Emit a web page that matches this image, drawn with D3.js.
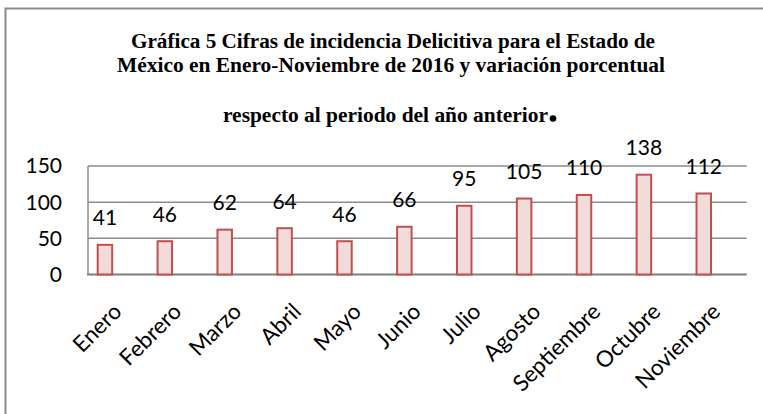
<!DOCTYPE html>
<html><head><meta charset="utf-8">
<script src="https://cdn.jsdelivr.net/npm/d3@7"></script>
<style>body{margin:0;background:#fff}svg{display:block}</style>
</head><body>
<script>
const categories = ["Enero","Febrero","Marzo","Abril","Mayo","Junio","Julio","Agosto","Septiembre","Octubre","Noviembre"];
const values = [41,46,62,64,46,66,95,105,110,138,112];
const yTicks = [0,50,100,150];
const titleLines = ["Gráfica 5 Cifras de incidencia Delicitiva para el Estado de","México en Enero-Noviembre de 2016 y variación porcentual","respecto al periodo del año anterior"];

const W=763,H=414;
const svg=d3.select("body").append("svg").attr("width",W).attr("height",H);

// outer frame
svg.append("path").attr("d",`M5.5,${H+5} V8.5 H${W+5}`).attr("fill","none").attr("stroke","#8a8a8a").attr("stroke-width",2);

// title
const tl=[{y:48.3,len:524,x:393},{y:71.7,len:548,x:391},{y:121.7,len:325,x:385.5}];
titleLines.forEach((t,i)=>{
  svg.append("text").attr("x",tl[i].x).attr("y",tl[i].y).attr("text-anchor","middle")
    .attr("font-family","Liberation Serif, Times New Roman, serif").attr("font-weight","bold").attr("font-size",20)
    .attr("textLength",tl[i].len).attr("lengthAdjust","spacingAndGlyphs").attr("fill","#000").text(t);
});
svg.append("circle").attr("cx",553).attr("cy",118.5).attr("r",3.3).attr("fill","#000");

const x=d3.scaleBand().domain(categories).range([88,746.7]).padding(0);
const y=d3.scaleLinear().domain([0,150]).range([274.5,166]);
const bw=x.bandwidth();

// gridlines
svg.append("g").selectAll("line").data(yTicks.filter(d=>d>0)).join("line")
  .attr("x1",88).attr("x2",746.7).attr("y1",d=>y(d)).attr("y2",d=>y(d))
  .attr("stroke","#8c8c8c").attr("stroke-width",1.5);
// axes lines
svg.append("line").attr("x1",88).attr("x2",88).attr("y1",y(150)).attr("y2",y(0)).attr("stroke","#8c8c8c").attr("stroke-width",1.5);
svg.append("line").attr("x1",87).attr("x2",746.7).attr("y1",y(0)).attr("y2",y(0)).attr("stroke","#7f7f7f").attr("stroke-width",2);

// y tick labels
svg.append("g").selectAll("text").data(yTicks).join("text")
  .attr("x",62).attr("y",d=>y(d)).attr("dy","0.35em").attr("text-anchor","end")
  .attr("font-family","Lato, sans-serif").attr("font-size",21).attr("fill","#000").text(d=>d);

// bars
const bx=d=>x(d)+bw*0.162, bwid=bw*0.242;
svg.append("g").selectAll("rect").data(values).join("rect")
  .attr("x",(d,i)=>bx(categories[i])).attr("width",bwid)
  .attr("y",d=>y(d)).attr("height",d=>y(0)-y(d))
  .attr("fill","#f2dcdb").attr("stroke","#c0504d").attr("stroke-width",2);

// value labels
svg.append("g").selectAll("text").data(values).join("text")
  .attr("x",(d,i)=>bx(categories[i])+bwid/2).attr("y",d=>y(d)-19.5).attr("text-anchor","middle")
  .attr("font-family","Lato, sans-serif").attr("font-size",21).attr("fill","#000").text(d=>d);

// x labels
svg.append("g").selectAll("text").data(categories).join("text")
  .attr("transform",d=>`translate(${x(d)+bw/2+5},313) rotate(-45)`).attr("text-anchor","end")
  .attr("font-family","Lato, sans-serif").attr("font-size",22.5).attr("fill","#000").text(d=>d);
</script>
</body></html>
